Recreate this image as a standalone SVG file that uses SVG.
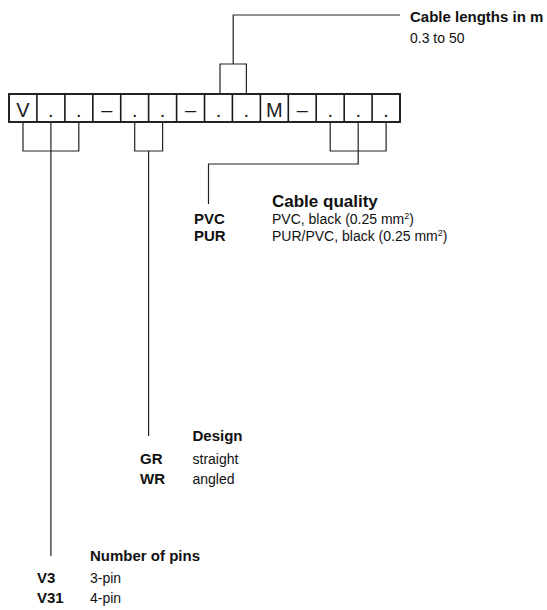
<svg xmlns="http://www.w3.org/2000/svg" width="547" height="610" viewBox="0 0 547 610">
<style>
  .cell { fill: #fff; stroke: #1a1a1a; stroke-width: 1.9; }
  .div { stroke: #1a1a1a; stroke-width: 1.6; }
  .conn { fill: none; stroke: #222; stroke-width: 1.2; }
  .ct { font-family: "Liberation Sans", Arial, sans-serif; font-size: 20px; fill: #1a1a1a; text-anchor: middle; }
  .h { font-family: "Liberation Sans", Arial, sans-serif; font-size: 15px; font-weight: bold; fill: #111; }
  .hq { font-family: "Liberation Sans", Arial, sans-serif; font-size: 17px; font-weight: bold; fill: #111; }
  .k { font-family: "Liberation Sans", Arial, sans-serif; font-size: 15px; font-weight: bold; fill: #111; }
  .t { font-family: "Liberation Sans", Arial, sans-serif; font-size: 14px; fill: #111; }
</style>
<rect width="547" height="610" fill="#fff"/>
<g id="code-row">
  <rect class="cell" x="9" y="94" width="391" height="28"/>
  <g class="div">
    <line x1="36.9" y1="94" x2="36.9" y2="122"/>
    <line x1="64.9" y1="94" x2="64.9" y2="122"/>
    <line x1="92.8" y1="94" x2="92.8" y2="122"/>
    <line x1="120.7" y1="94" x2="120.7" y2="122"/>
    <line x1="148.6" y1="94" x2="148.6" y2="122"/>
    <line x1="176.6" y1="94" x2="176.6" y2="122"/>
    <line x1="204.5" y1="94" x2="204.5" y2="122"/>
    <line x1="232.4" y1="94" x2="232.4" y2="122"/>
    <line x1="260.4" y1="94" x2="260.4" y2="122"/>
    <line x1="288.3" y1="94" x2="288.3" y2="122"/>
    <line x1="316.2" y1="94" x2="316.2" y2="122"/>
    <line x1="344.2" y1="94" x2="344.2" y2="122"/>
    <line x1="372.1" y1="94" x2="372.1" y2="122"/>
  </g>
  <text class="ct" x="23" y="116.5">V</text>
  <text class="ct" x="50.9" y="116.5">.</text>
  <text class="ct" x="78.8" y="116.5">.</text>
  <text class="ct" x="106.8" y="116.5">–</text>
  <text class="ct" x="134.7" y="116.5">.</text>
  <text class="ct" x="162.6" y="116.5">.</text>
  <text class="ct" x="190.5" y="116.5">–</text>
  <text class="ct" x="218.5" y="116.5">.</text>
  <text class="ct" x="246.4" y="116.5">.</text>
  <text class="ct" x="274.4" y="116.5">M</text>
  <text class="ct" x="302.3" y="116.5">–</text>
  <text class="ct" x="330.2" y="116.5">.</text>
  <text class="ct" x="358.2" y="116.5">.</text>
  <text class="ct" x="386.1" y="116.5">.</text>
</g>
<g id="connectors">
  <path class="conn" d="M220 94 V64 H246.4 V94"/>
  <path class="conn" d="M233.2 64 V15 H400"/>
  <path class="conn" d="M23 122 V151 H78.8 V122 M50.9 122 V556"/>
  <path class="conn" d="M134.7 122 V151 H162.6 V122 M148.6 151 V436"/>
  <path class="conn" d="M330.2 122 V151 H386.1 V122 M358.2 122 V164 H208.5 V204"/>
</g>
<g id="cable-lengths">
  <text class="h" x="410" y="22">Cable lengths in m</text>
  <text class="t" x="410" y="43">0.3 to 50</text>
</g>
<g id="cable-quality">
  <text class="hq" x="272" y="207">Cable quality</text>
  <text class="k" x="194" y="224">PVC</text>
  <text class="t" x="272" y="224">PVC, black (0.25 mm<tspan font-size="9" dy="-5">2</tspan><tspan dy="5">)</tspan></text>
  <text class="k" x="194" y="241">PUR</text>
  <text class="t" x="272" y="241">PUR/PVC, black (0.25 mm<tspan font-size="9" dy="-5">2</tspan><tspan dy="5">)</tspan></text>
</g>
<g id="design">
  <text class="h" x="192.5" y="441">Design</text>
  <text class="k" x="140" y="464">GR</text>
  <text class="t" x="192.5" y="464">straight</text>
  <text class="k" x="140" y="484">WR</text>
  <text class="t" x="192.5" y="484">angled</text>
</g>
<g id="pins">
  <text class="h" x="90" y="561">Number of pins</text>
  <text class="k" x="37" y="583">V3</text>
  <text class="t" x="90" y="583">3-pin</text>
  <text class="k" x="37" y="603">V31</text>
  <text class="t" x="90" y="603">4-pin</text>
</g>
</svg>
